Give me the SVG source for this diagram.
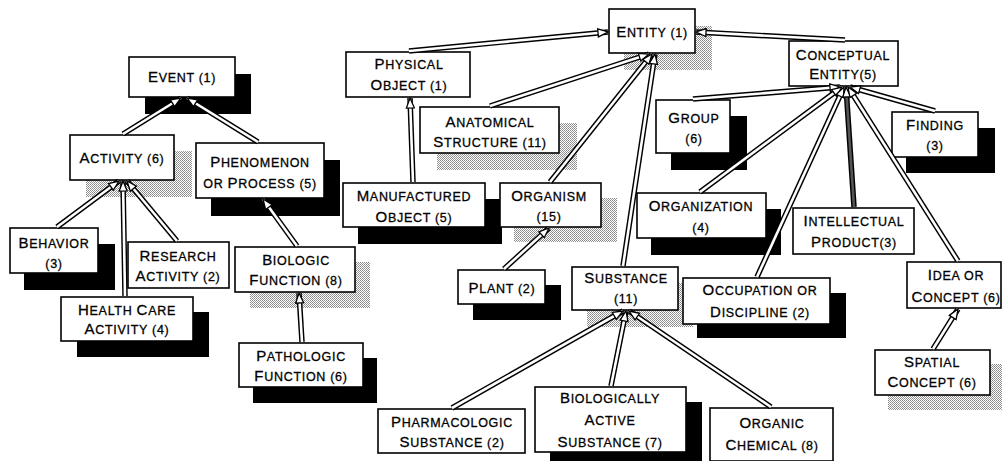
<svg xmlns="http://www.w3.org/2000/svg" xmlns:xlink="http://www.w3.org/1999/xlink" width="1002" height="461" viewBox="0 0 1002 461">
  <style>
    .box { fill: #fff; stroke: #000; stroke-width: 1.6; }
    .sh { fill: #000; }
    .dz { fill: url(#dither); }
    .t { font-family: "Liberation Sans", Arial, Helvetica, sans-serif; font-size: 12.5px; letter-spacing: 0.7px; text-anchor: middle; fill: #000; stroke: #000; stroke-width: 0.3px; }
    .c { font-size: 15px; }
    .outer { fill: none; stroke: #000; stroke-width: 5.5; }
    .inner { fill: none; stroke: #fff; stroke-width: 2.6; marker-end: url(#head); }
    .inner .dark { stroke: #555; }
  </style>
  <defs>
    <!-- stippled grey used for the lighter drop shadows -->
    <pattern id="dither" width="2" height="2" patternUnits="userSpaceOnUse">
      <rect width="2" height="2" fill="#fff"/>
      <rect width="1" height="1" fill="#888"/>
      <rect x="1" y="1" width="1" height="1" fill="#999"/>
    </pattern>
    <!-- hollow arrowhead at the parent end of each link -->
    <marker id="head" markerUnits="userSpaceOnUse" markerWidth="12" markerHeight="10" viewBox="0 0 12 10" refX="11" refY="5" orient="auto">
      <path d="M1,1 L11,5 L1,9 Z" fill="#fff" stroke="#000" stroke-width="1.3"/>
    </marker>
    <!-- link geometry, child to parent -->
    <path id="e1" d="M123,134 L181,98"/>
    <path id="e2" d="M258,142 L187,98"/>
    <path id="e3" d="M57,227 L119,181"/>
    <path id="e4" d="M125,296 L123,181"/>
    <path id="e5" d="M177,241 L127,181"/>
    <path id="e6" d="M297,246 L263,199"/>
    <path id="e7" d="M302,342 L299,293"/>
    <path id="e8" d="M409,51 L608,32"/>
    <path id="e9" d="M490,106 L649,54"/>
    <path id="e10" d="M550,182 L652,54"/>
    <path id="e11" d="M623,266 L655,54"/>
    <path id="e12" d="M413,182 L410,98"/>
    <path id="e13" d="M504,269 L549,228"/>
    <path id="e14" d="M845,40 L696,32"/>
    <path id="e15" d="M452,408 L623,311"/>
    <path id="e16" d="M611,386 L626,311"/>
    <path id="e17" d="M771,407 L629,311"/>
    <path id="e18" d="M693,99 L840,87"/>
    <path id="e19" d="M935,111 L850,87"/>
    <path id="e20" d="M700,192 L842,87"/>
    <path id="e21" d="M757,277 L844,87"/>
    <path id="e22" d="M854,207 L846,87"/>
    <path id="e23" d="M958,261 L848,87"/>
    <path id="e24" d="M933,349 L958,309"/>
  </defs>

  <rect width="1002" height="461" fill="#fff"/>

  <!-- Event branch -->
  <g id="event">
    <rect class="sh" x="145" y="74" width="106" height="40"/>
    <rect class="box" x="129" y="57" width="106" height="40"/>
    <text class="t" x="182" y="82"><tspan class="c">E</tspan>VENT (1)</text>
  </g>
  <g id="activity">
    <rect class="dz" x="86" y="151" width="106" height="46"/>
    <rect class="box" x="70" y="135" width="104" height="45"/>
    <text class="t" x="122" y="163"><tspan class="c">A</tspan>CTIVITY (6)</text>
  </g>
  <g id="phenomenon">
    <rect class="sh" x="211" y="160" width="129" height="56"/>
    <rect class="box" x="196" y="143" width="128" height="55"/>
    <text class="t" x="260" y="167"><tspan class="c">P</tspan>HENOMENON</text>
    <text class="t" x="260" y="188">OR <tspan class="c">P</tspan>ROCESS (5)</text>
  </g>
  <g id="behavior">
    <rect class="sh" x="24" y="244" width="91" height="46"/>
    <rect class="box" x="10" y="228" width="88" height="45"/>
    <text class="t" x="54" y="248"><tspan class="c">B</tspan>EHAVIOR</text>
    <text class="t" x="54" y="268">(3)</text>
  </g>
  <g id="research-activity">
    <rect class="box" x="128" y="242" width="101" height="46"/>
    <text class="t" x="178" y="261"><tspan class="c">R</tspan>ESEARCH</text>
    <text class="t" x="178" y="281"><tspan class="c">A</tspan>CTIVITY (2)</text>
  </g>
  <g id="health-care-activity">
    <rect class="sh" x="77" y="312" width="132" height="45"/>
    <rect class="box" x="61" y="297" width="132" height="44"/>
    <text class="t" x="127" y="315"><tspan class="c">H</tspan>EALTH <tspan class="c">C</tspan>ARE</text>
    <text class="t" x="127" y="334"><tspan class="c">A</tspan>CTIVITY (4)</text>
  </g>
  <g id="biologic-function">
    <rect class="dz" x="250" y="262" width="120" height="46"/>
    <rect class="box" x="235" y="247" width="120" height="45"/>
    <text class="t" x="296" y="265"><tspan class="c">B</tspan>IOLOGIC</text>
    <text class="t" x="296" y="285"><tspan class="c">F</tspan>UNCTION (8)</text>
  </g>
  <g id="pathologic-function">
    <rect class="sh" x="253" y="358" width="124" height="45"/>
    <rect class="box" x="239" y="343" width="124" height="44"/>
    <text class="t" x="301" y="361"><tspan class="c">P</tspan>ATHOLOGIC</text>
    <text class="t" x="301" y="381"><tspan class="c">F</tspan>UNCTION (6)</text>
  </g>

  <!-- Entity branch -->
  <g id="entity">
    <rect class="dz" x="624" y="26" width="88" height="44"/>
    <rect class="box" x="609" y="9" width="86" height="44"/>
    <text class="t" x="652" y="37"><tspan class="c">E</tspan>NTITY (1)</text>
  </g>
  <g id="physical-object">
    <rect class="box" x="346" y="52" width="124" height="45"/>
    <text class="t" x="409" y="69"><tspan class="c">P</tspan>HYSICAL</text>
    <text class="t" x="409" y="90"><tspan class="c">O</tspan>BJECT (1)</text>
  </g>
  <g id="anatomical-structure">
    <rect class="dz" x="437" y="123" width="140" height="47"/>
    <rect class="box" x="420" y="107" width="139" height="46"/>
    <text class="t" x="490" y="127"><tspan class="c">A</tspan>NATOMICAL</text>
    <text class="t" x="490" y="147"><tspan class="c">S</tspan>TRUCTURE (11)</text>
  </g>
  <g id="manufactured-object">
    <rect class="sh" x="358" y="199" width="144" height="45"/>
    <rect class="box" x="343" y="183" width="142" height="44"/>
    <text class="t" x="414" y="201"><tspan class="c">M</tspan>ANUFACTURED</text>
    <text class="t" x="414" y="222"><tspan class="c">O</tspan>BJECT (5)</text>
  </g>
  <g id="organism">
    <rect class="dz" x="514" y="198" width="103" height="44"/>
    <rect class="box" x="500" y="183" width="101" height="44"/>
    <text class="t" x="549" y="201"><tspan class="c">O</tspan>RGANISM</text>
    <text class="t" x="549" y="221">(15)</text>
  </g>
  <g id="plant">
    <rect class="sh" x="473" y="285" width="88" height="35"/>
    <rect class="box" x="458" y="270" width="87" height="34"/>
    <text class="t" x="502" y="293"><tspan class="c">P</tspan>LANT (2)</text>
  </g>
  <g id="substance">
    <rect class="dz" x="587" y="283" width="106" height="44"/>
    <rect class="box" x="572" y="267" width="106" height="43"/>
    <text class="t" x="626" y="283"><tspan class="c">S</tspan>UBSTANCE</text>
    <text class="t" x="626" y="303">(11)</text>
  </g>
  <g id="pharmacologic-substance">
    <rect class="box" x="378" y="409" width="147" height="44"/>
    <text class="t" x="452" y="427"><tspan class="c">P</tspan>HARMACOLOGIC</text>
    <text class="t" x="452" y="447"><tspan class="c">S</tspan>UBSTANCE (2)</text>
  </g>
  <g id="biologically-active-substance">
    <rect class="sh" x="550" y="402" width="152" height="65"/>
    <rect class="box" x="535" y="387" width="151" height="65"/>
    <text class="t" x="610" y="403"><tspan class="c">B</tspan>IOLOGICALLY</text>
    <text class="t" x="610" y="425"><tspan class="c">A</tspan>CTIVE</text>
    <text class="t" x="610" y="447"><tspan class="c">S</tspan>UBSTANCE (7)</text>
  </g>
  <g id="organic-chemical">
    <rect class="box" x="710" y="408" width="123" height="53"/>
    <text class="t" x="772" y="428"><tspan class="c">O</tspan>RGANIC</text>
    <text class="t" x="772" y="450"><tspan class="c">C</tspan>HEMICAL (8)</text>
  </g>

  <!-- Conceptual entity branch -->
  <g id="conceptual-entity">
    <rect class="box" x="789" y="41" width="109" height="45"/>
    <text class="t" x="843" y="60"><tspan class="c">C</tspan>ONCEPTUAL</text>
    <text class="t" x="843" y="79"><tspan class="c">E</tspan>NTITY(5)</text>
  </g>
  <g id="group">
    <rect class="sh" x="671" y="116" width="76" height="54"/>
    <rect class="box" x="656" y="100" width="74" height="53"/>
    <text class="t" x="694" y="123"><tspan class="c">G</tspan>ROUP</text>
    <text class="t" x="694" y="143">(6)</text>
  </g>
  <g id="finding">
    <rect class="sh" x="906" y="128" width="89" height="45"/>
    <rect class="box" x="892" y="112" width="86" height="45"/>
    <text class="t" x="935" y="130"><tspan class="c">F</tspan>INDING</text>
    <text class="t" x="935" y="150">(3)</text>
  </g>
  <g id="organization">
    <rect class="sh" x="651" y="209" width="130" height="46"/>
    <rect class="box" x="637" y="193" width="129" height="45"/>
    <text class="t" x="701" y="211"><tspan class="c">O</tspan>RGANIZATION</text>
    <text class="t" x="701" y="232">(4)</text>
  </g>
  <g id="intellectual-product">
    <rect class="box" x="793" y="208" width="121" height="46"/>
    <text class="t" x="854" y="226"><tspan class="c">I</tspan>NTELLECTUAL</text>
    <text class="t" x="854" y="247"><tspan class="c">P</tspan>RODUCT(3)</text>
  </g>
  <g id="occupation-or-discipline">
    <rect class="sh" x="697" y="293" width="149" height="45"/>
    <rect class="box" x="683" y="278" width="147" height="46"/>
    <text class="t" x="760" y="295"><tspan class="c">O</tspan>CCUPATION OR</text>
    <text class="t" x="760" y="317"><tspan class="c">D</tspan>ISCIPLINE (2)</text>
  </g>
  <g id="idea-or-concept">
    <rect class="box" x="907" y="262" width="94" height="46"/>
    <text class="t" x="956" y="280"><tspan class="c">I</tspan>DEA OR</text>
    <text class="t" x="956" y="302"><tspan class="c">C</tspan>ONCEPT (6)</text>
  </g>
  <g id="spatial-concept">
    <rect class="dz" x="888" y="364" width="115" height="46"/>
    <rect class="box" x="875" y="350" width="115" height="45"/>
    <text class="t" x="932" y="367"><tspan class="c">S</tspan>PATIAL</text>
    <text class="t" x="932" y="387"><tspan class="c">C</tspan>ONCEPT (6)</text>
  </g>

  <!-- Links: black casing first, then white core with arrowheads -->
  <g id="connectors">
    <g class="outer">
      <use xlink:href="#e1"/><use xlink:href="#e2"/><use xlink:href="#e3"/><use xlink:href="#e4"/>
      <use xlink:href="#e5"/><use xlink:href="#e6"/><use xlink:href="#e7"/><use xlink:href="#e8"/>
      <use xlink:href="#e9"/><use xlink:href="#e10"/><use xlink:href="#e11"/><use xlink:href="#e12"/>
      <use xlink:href="#e13"/><use xlink:href="#e14"/><use xlink:href="#e15"/><use xlink:href="#e16"/>
      <use xlink:href="#e17"/><use xlink:href="#e18"/><use xlink:href="#e19"/><use xlink:href="#e20"/>
      <use xlink:href="#e21"/><use xlink:href="#e22"/><use xlink:href="#e23"/><use xlink:href="#e24"/>
    </g>
    <g class="inner">
      <use xlink:href="#e1"/><use xlink:href="#e2"/><use xlink:href="#e3"/><use xlink:href="#e4"/>
      <use xlink:href="#e5"/><use xlink:href="#e6"/><use xlink:href="#e7"/><use xlink:href="#e8"/>
      <use xlink:href="#e9"/><use xlink:href="#e10"/><use xlink:href="#e11"/><use xlink:href="#e12"/>
      <use xlink:href="#e13"/><use xlink:href="#e14"/><use xlink:href="#e15"/><use xlink:href="#e16"/>
      <use xlink:href="#e17"/><use xlink:href="#e18"/><use xlink:href="#e19"/><use xlink:href="#e20"/>
      <use xlink:href="#e21"/><use class="dark" xlink:href="#e22"/><use xlink:href="#e23"/><use xlink:href="#e24"/>
    </g>
  </g>
</svg>
